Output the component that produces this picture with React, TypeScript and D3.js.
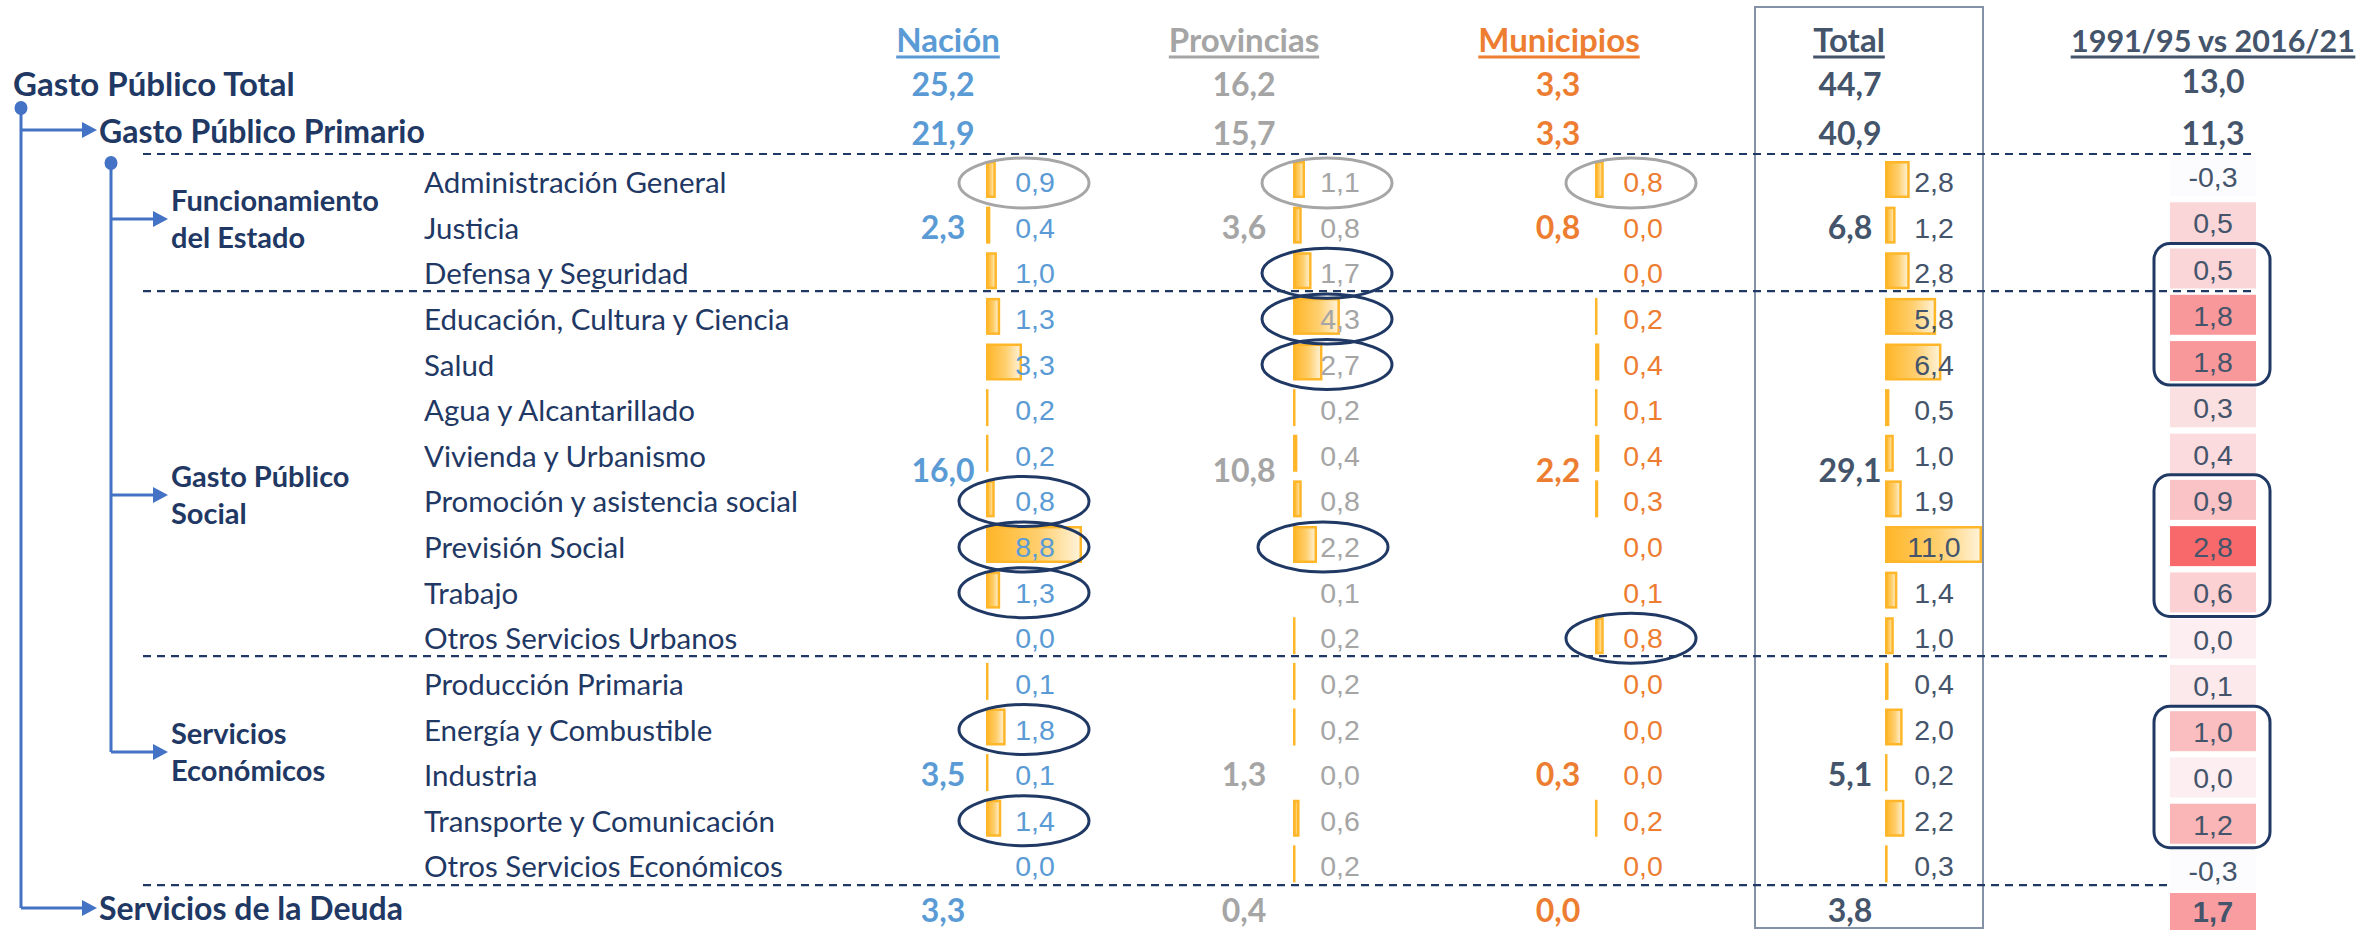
import React, { useEffect, useMemo } from "react";
import * as d3 from "d3";

// ---------- DATA ----------
const categories = [
  "Administración General",
  "Justicia",
  "Defensa y Seguridad",
  "Educación, Cultura y Ciencia",
  "Salud",
  "Agua y Alcantarillado",
  "Vivienda y Urbanismo",
  "Promoción y asistencia social",
  "Previsión Social",
  "Trabajo",
  "Otros Servicios Urbanos",
  "Producción Primaria",
  "Energía y Combustible",
  "Industria",
  "Transporte y Comunicación",
  "Otros Servicios Económicos",
];
const nacion = [0.9, 0.4, 1.0, 1.3, 3.3, 0.2, 0.2, 0.8, 8.8, 1.3, 0.0, 0.1, 1.8, 0.1, 1.4, 0.0];
const provincias = [1.1, 0.8, 1.7, 4.3, 2.7, 0.2, 0.4, 0.8, 2.2, 0.06, 0.2, 0.2, 0.2, 0.0, 0.6, 0.2];
const municipios = [0.8, 0.0, 0.0, 0.2, 0.4, 0.1, 0.4, 0.3, 0.0, 0.06, 0.8, 0.0, 0.0, 0.0, 0.2, 0.0];
const total = [2.8, 1.2, 2.8, 5.8, 6.4, 0.5, 1.0, 1.9, 11.0, 1.4, 1.0, 0.4, 2.0, 0.2, 2.2, 0.3];
const change = [-0.3, 0.5, 0.5, 1.8, 1.8, 0.3, 0.4, 0.9, 2.8, 0.6, 0.0, 0.1, 1.0, 0.0, 1.2, -0.3];

const groupLabels = [
  ["Funcionamiento", "del Estado"],
  ["Gasto Público", "Social"],
  ["Servicios", "Económicos"],
];
const nacionGroup = [2.3, 16.0, 3.5];
const provinciasGroup = [3.6, 10.8, 1.3];
const municipiosGroup = [0.8, 2.2, 0.3];
const totalGroup = [6.8, 29.1, 5.1];

const topLabels = ["Gasto Público Total", "Gasto Público Primario"];
const nacionTop = [25.2, 21.9];
const provinciasTop = [16.2, 15.7];
const municipiosTop = [3.3, 3.3];
const totalTop = [44.7, 40.9];
const changeTop = [13.0, 11.3];

const deudaLabel = "Servicios de la Deuda";
const deudaValues = [3.3, 0.4, 0.0, 3.8, 1.7]; // nación, provincias, municipios, total, cambio

const headers = ["Nación", "Provincias", "Municipios", "Total", "1991/95 vs 2016/21"];

// highlighted cells: [column, row]
const grayHighlights = [[0, 0], [1, 0], [2, 0]];
const navyHighlights = [[1, 2], [1, 3], [1, 4], [1, 8], [0, 7], [0, 8], [0, 9], [0, 12], [0, 14], [2, 10]];
const boxedChangeRows = [[2, 4], [7, 9], [12, 14]];

// ---------- LAYOUT ----------
const W = 2362;
const H = 930;
const NAVY = "#1F3864";
const TREE = "#4472C4";
const ORANGE = "#FFB628";
const rowY = d3.scaleLinear().domain([0, 16]).range([182, 912]);
const chgY = d3.scaleLinear().domain([0, 15]).range([177, 871]);
const barLen = d3.scaleLinear().domain([0, 8.8]).range([0, 96]);
const totLen = d3.scaleLinear().domain([0, 11]).range([0, 97]);
const heat = d3.scaleLinear<string>().domain([-0.3, 2.8]).range(["#FCFCFF", "#F8696B"]);
const loc = d3.formatLocale({ decimal: ",", thousands: ".", grouping: [3], currency: ["", ""], minus: "-" });
const fmt = loc.format(".1f");

const groupValueRow = [1, 6.33, 13];
const groupArrowY = [219, 495, 752];

const columns = [
  { vals: nacion, grp: nacionGroup, top: nacionTop, color: "#5B9BD5", textX: 1035, barX: 986, bigX: 943, headX: 948, len: barLen },
  { vals: provincias, grp: provinciasGroup, top: provinciasTop, color: "#A5A5A5", textX: 1340, barX: 1293, bigX: 1244, headX: 1244, len: barLen },
  { vals: municipios, grp: municipiosGroup, top: municipiosTop, color: "#ED7D31", textX: 1643, barX: 1595, bigX: 1558, headX: 1559, len: barLen },
  { vals: total, grp: totalGroup, top: totalTop, color: "#44546A", textX: 1934, barX: 1885, bigX: 1850, headX: 1849, len: totLen },
];
const CHG_X = 2213;
const ellipseX = [1024, 1327, 1631];

const LATO = "Lato, 'Noto Sans', sans-serif";
const ARIAL = "'Liberation Sans', Arial, sans-serif";
const HEAD_SIZE = [33, 33, 33, 33, 30.5];

function measure(text: string, font: string) {
  const c = document.createElement("canvas").getContext("2d");
  if (!c) return text.length * 16;
  c.font = font;
  return c.measureText(text).width;
}

function Arrow({ x0, x1, y }: { x0: number; x1: number; y: number }) {
  return (
    <g>
      <line x1={x0} y1={y} x2={x1 - 13} y2={y} stroke={TREE} strokeWidth={3} />
      <polygon points={`${x1 - 15},${y - 8} ${x1},${y} ${x1 - 15},${y + 8}`} fill={TREE} />
    </g>
  );
}

export default function App() {
  useEffect(() => {
    document.body.style.margin = "0";
    document.body.style.overflow = "hidden";
  }, []);

  const headerColors = [...columns.map((c) => c.color), "#44546A"];
  const headerX = [...columns.map((c) => c.headX), CHG_X];
  const headerW = useMemo(
    () => headers.map((h, i) => measure(h, `bold ${HEAD_SIZE[i]}px Lato`)),
    []
  );

  return (
    <svg width={W} height={H} style={{ display: "block", background: "#fff" }}>
      <defs>
        <linearGradient id="barGrad" x1="0" x2="1" y1="0" y2="0">
          <stop offset="0" stopColor="#FFB628" />
          <stop offset="0.55" stopColor="#FFCF6E" />
          <stop offset="1" stopColor="#FFF3DA" />
        </linearGradient>
      </defs>

      {/* Total box */}
      <rect x={1755} y={7} width={228} height={921} fill="none" stroke="#8492A8" strokeWidth={2} />

      {/* Headers */}
      {headers.map((h, i) => (
        <g key={h}>
          <text x={headerX[i]} y={52} textAnchor="middle" fontFamily={LATO} fontWeight={700}
            fontSize={HEAD_SIZE[i]} fill={headerColors[i]}>{h}</text>
          <line x1={headerX[i] - headerW[i] / 2} x2={headerX[i] + headerW[i] / 2} y1={57} y2={57}
            stroke={headerColors[i]} strokeWidth={3} />
        </g>
      ))}

      {/* Dashed separators */}
      {[154, (rowY(2) + rowY(3)) / 2 - 5, (rowY(10) + rowY(11)) / 2 - 5, (rowY(15) + rowY(16)) / 2 - 4].map((y, i) => (
        <line key={i} x1={143} x2={2255} y1={y} y2={y} stroke={NAVY} strokeWidth={2.2} strokeDasharray="8,6" />
      ))}

      {/* Tree */}
      <line x1={21} x2={21} y1={108} y2={908} stroke={TREE} strokeWidth={3} />
      <ellipse cx={21} cy={108} rx={6.5} ry={7} fill={TREE} />
      <Arrow x0={21} x1={97} y={130} />
      <Arrow x0={21} x1={97} y={908} />
      <line x1={111} x2={111} y1={163} y2={752} stroke={TREE} strokeWidth={3} />
      <ellipse cx={111} cy={163} rx={6.5} ry={7} fill={TREE} />
      {groupArrowY.map((y, i) => <Arrow key={i} x0={111} x1={168} y={y} />)}

      {/* Top-level labels */}
      <text x={13} y={96} fontFamily={LATO} fontWeight={700} fontSize={33} fill={NAVY}>{topLabels[0]}</text>
      <text x={99} y={143} fontFamily={LATO} fontWeight={700} fontSize={32} fill={NAVY}>{topLabels[1]}</text>
      <text x={99} y={920} fontFamily={LATO} fontWeight={700} fontSize={32} fill={NAVY}>{deudaLabel}</text>

      {/* Group labels */}
      {groupLabels.map((lines, g) => (
        <g key={g}>
          <text x={171} y={groupArrowY[g] - 8} fontFamily={LATO} fontWeight={700} fontSize={29} fill={NAVY}>{lines[0]}</text>
          <text x={171} y={groupArrowY[g] + 29} fontFamily={LATO} fontWeight={700} fontSize={29} fill={NAVY}>{lines[1]}</text>
        </g>
      ))}

      {/* Row labels */}
      {categories.map((c, i) => (
        <text key={c} x={424} y={rowY(i) + 11} fontFamily={LATO} fontSize={29.5} fill={NAVY}>{c}</text>
      ))}

      {/* Columns */}
      {columns.map((col, ci) => (
        <g key={ci}>
          {col.top.map((v, k) => (
            <text key={"t" + k} x={col.bigX} y={k === 0 ? 96 : 145} textAnchor="middle" fontFamily={LATO}
              fontWeight={700} fontSize={32} fill={col.color}>{fmt(v)}</text>
          ))}
          <text x={col.bigX} y={922} textAnchor="middle" fontFamily={LATO} fontWeight={700} fontSize={32}
            fill={col.color}>{fmt(deudaValues[ci])}</text>
          {col.grp.map((v, g) => (
            <text key={"g" + g} x={col.bigX} y={rowY(groupValueRow[g]) + 11} textAnchor="middle" fontFamily={LATO}
              fontWeight={700} fontSize={32} fill={col.color}>{fmt(v)}</text>
          ))}
          {col.vals.map((v, i) => {
            const w = col.len(v);
            if (w < 0.8) return null;
            const ww = Math.max(w, 2.5);
            const y = rowY(i) - 2.5 - 18.5;
            if (ww < 6) {
              return <rect key={"b" + i} x={col.barX} y={y} width={ww} height={37} fill={ORANGE} />;
            }
            return (
              <rect key={"b" + i} x={col.barX + 1.25} y={y + 1.25} width={ww - 2.5} height={34.5}
                fill="url(#barGrad)" stroke={ORANGE} strokeWidth={2.5} />
            );
          })}
          {col.vals.map((v, i) => (
            <text key={"v" + i} x={col.textX} y={rowY(i) + 10} textAnchor="middle" fontFamily={ARIAL}
              fontSize={28.5} fill={col.color}>{fmt(v)}</text>
          ))}
        </g>
      ))}

      {/* Change column */}
      {changeTop.map((v, k) => (
        <text key={"ct" + k} x={CHG_X} y={k === 0 ? 93 : 145} textAnchor="middle" fontFamily={LATO}
          fontWeight={700} fontSize={32} fill="#44546A">{fmt(v)}</text>
      ))}
      {change.map((v, i) => (
        <g key={"c" + i}>
          <rect x={2170} y={chgY(i) - 21} width={86} height={40} fill={heat(v)} />
          <text x={CHG_X} y={chgY(i) + 10} textAnchor="middle" fontFamily={ARIAL} fontSize={28.5} fill="#44546A">{fmt(v)}</text>
        </g>
      ))}
      <rect x={2170} y={893} width={86} height={37} fill={heat(deudaValues[4])} />
      <text x={CHG_X} y={922} textAnchor="middle" fontFamily={ARIAL} fontWeight={700} fontSize={29}
        fill="#44546A">{fmt(deudaValues[4])}</text>

      {boxedChangeRows.map(([a, b], k) => (
        <rect key={"bx" + k} x={2154} y={chgY(a) - 26} width={116} height={chgY(b) - chgY(a) + 49} rx={16}
          fill="none" stroke={NAVY} strokeWidth={3} />
      ))}

      {/* Ellipse highlights */}
      {grayHighlights.map(([c, r], k) => (
        <ellipse key={"ge" + k} cx={ellipseX[c]} cy={rowY(r) + 1} rx={65} ry={25} fill="none" stroke="#A6A6A6" strokeWidth={3} />
      ))}
      {navyHighlights.map(([c, r], k) => (
        <ellipse key={"ne" + k} cx={ellipseX[c] - (c === 1 && r === 8 ? 4 : 0)} cy={rowY(r)} rx={65} ry={25}
          fill="none" stroke={NAVY} strokeWidth={3} />
      ))}
    </svg>
  );
}
